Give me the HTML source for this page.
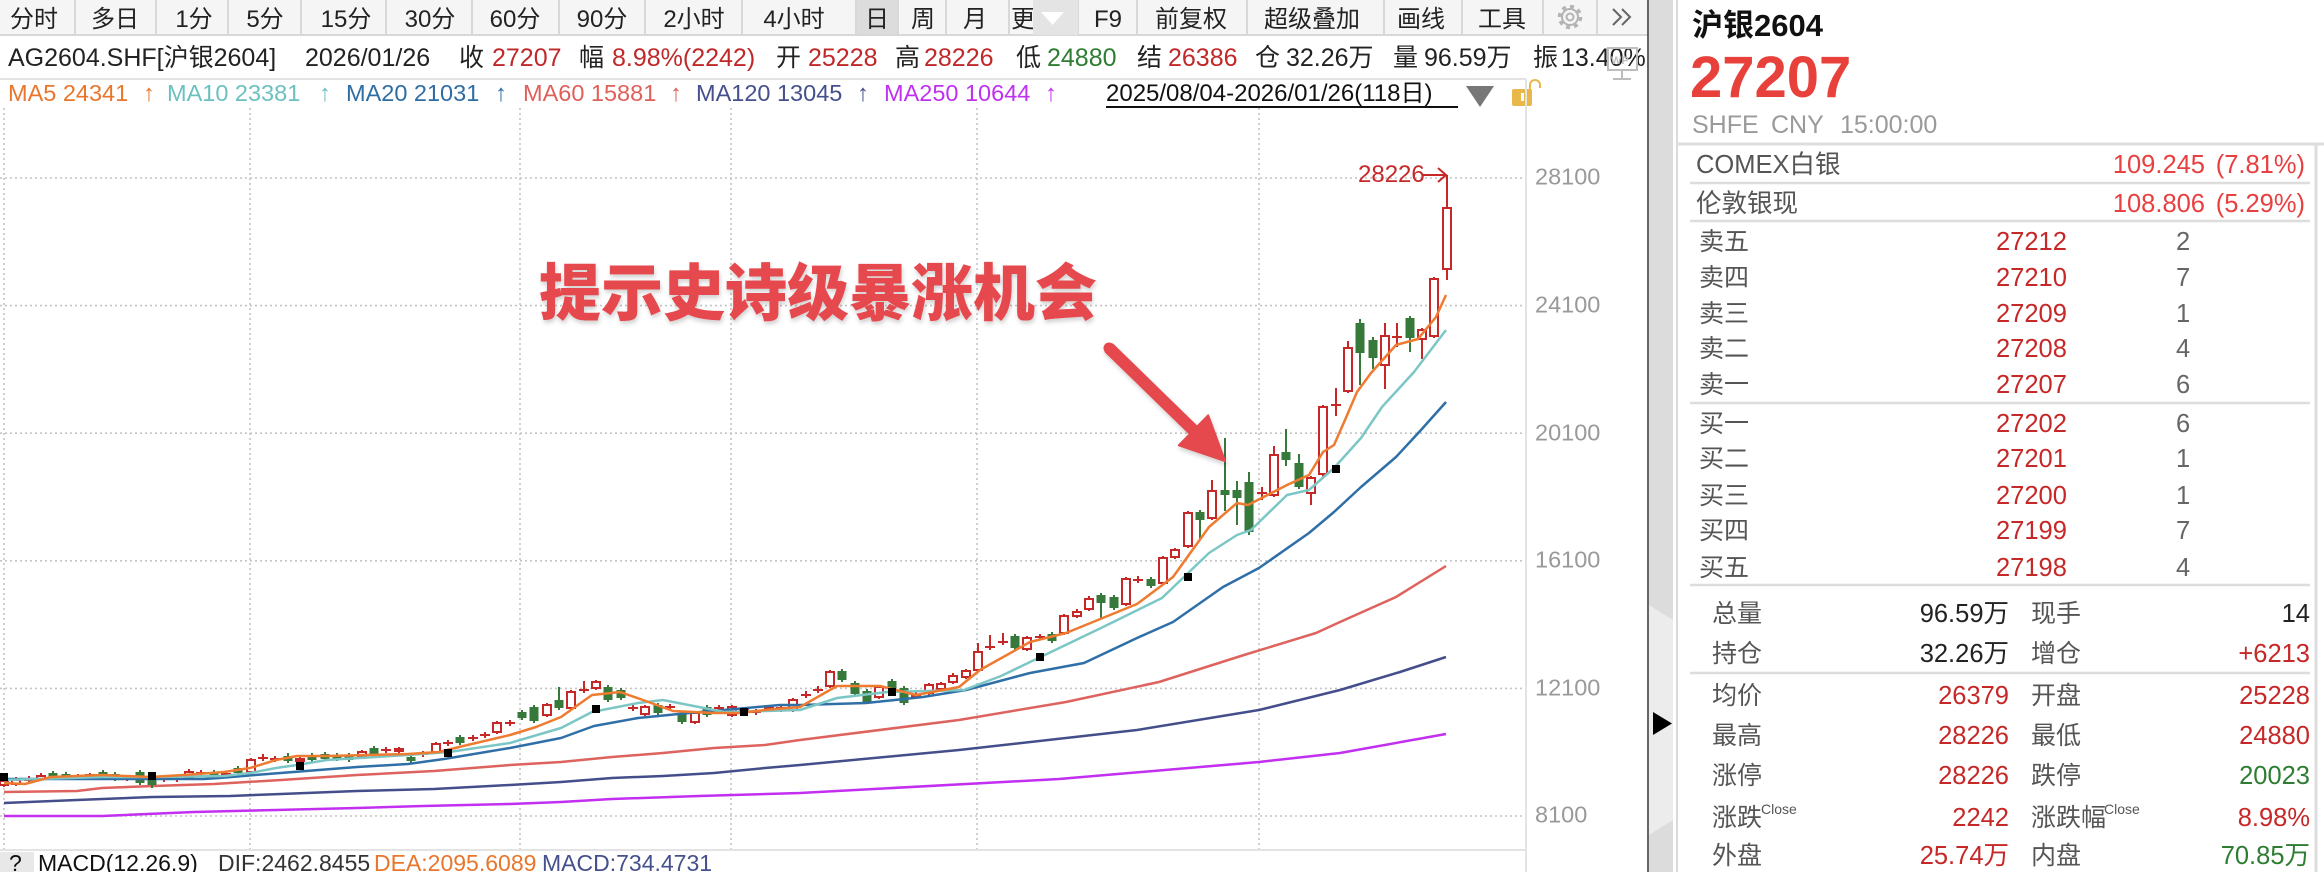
<!DOCTYPE html>
<html><head><meta charset="utf-8"><style>
html,body{margin:0;padding:0;background:#fff;}
svg{display:block;}
text{font-family:"Liberation Sans","Noto Sans CJK SC",sans-serif;}
</style></head><body>
<svg width="2324" height="872" viewBox="0 0 2324 872" xmlns="http://www.w3.org/2000/svg">
<rect width="2324" height="872" fill="#fff"/>
<!-- Tab bar -->
<rect x="0" y="0" width="1648" height="35" fill="#f5f5f5"/>
<rect x="856" y="0" width="42" height="35" fill="#dcdcdc"/>
<g stroke="#d8d8d8" stroke-width="2">
<path d="M75 0V35M156 0V35M228 0V35M301 0V35M386 0V35M472 0V35M559 0V35M645 0V35M742 0V35M856 0V35M898 0V35M946 0V35M1009 0V35M1078 0V35M1137 0V35M1247 0V35M1384 0V35M1462 0V35M1543 0V35M1597 0V35"/>
<path d="M0 35H1648"/>
</g>
<g font-size="24" fill="#222" text-anchor="middle">
<text x="34" y="27">分时</text><text x="115" y="27">多日</text><text x="194" y="27">1分</text><text x="265" y="27">5分</text><text x="346" y="27">15分</text><text x="430" y="27">30分</text><text x="515" y="27">60分</text><text x="602" y="27">90分</text><text x="694" y="27">2小时</text><text x="794" y="27">4小时</text><text x="877" y="27">日</text><text x="923" y="27">周</text><text x="975" y="27">月</text><text x="1023" y="27">更</text><text x="1108" y="27">F9</text><text x="1191" y="27">前复权</text><text x="1312" y="27">超级叠加</text><text x="1421" y="27">画线</text><text x="1502" y="27">工具</text>
</g>
<rect x="1033" y="0" width="45" height="35" fill="#e4e4e4"/>
<polygon points="1041,12 1064,12 1052.5,25" fill="#fff"/>
<g fill="none" stroke="#b4b4b4">
<circle cx="1570" cy="17" r="10.5" stroke-width="3.5" stroke-dasharray="4 4.2"/>
<circle cx="1570" cy="17" r="8" stroke-width="2"/>
<circle cx="1570" cy="17" r="3.5" stroke-width="2"/>
</g>
<g fill="none" stroke="#666" stroke-width="2"><path d="M1613 9L1621 17L1613 25M1622 9L1630 17L1622 25"/></g>

<!-- Info line -->
<g font-size="25" fill="#222">
<text x="8" y="66">AG2604.SHF[沪银2604]</text>
<text x="305" y="66">2026/01/26</text>
<text x="459" y="66">收</text><text x="492" y="66" fill="#c0282a">27207</text>
<text x="579" y="66">幅</text><text x="612" y="66" fill="#c0282a">8.98%(2242)</text>
<text x="776" y="66">开</text><text x="808" y="66" fill="#c0282a">25228</text>
<text x="895" y="66">高</text><text x="924" y="66" fill="#c0282a">28226</text>
<text x="1016" y="66">低</text><text x="1047" y="66" fill="#2e7d32">24880</text>
<text x="1137" y="66">结</text><text x="1168" y="66" fill="#c0282a">26386</text>
<text x="1255" y="66">仓</text><text x="1286" y="66">32.26万</text>
<text x="1393" y="66">量</text><text x="1424" y="66">96.59万</text>
<text x="1533" y="66">振</text><text x="1561" y="66">13.40%</text>
</g>
<g fill="none" stroke="#bdbdbd" stroke-width="2"><rect x="1608" y="48" width="29" height="22"/><path d="M1622 70V78M1613 79H1631"/></g>
<text x="1611" y="64" font-size="11" fill="#bdbdbd" font-weight="bold">WP</text>
<path d="M0 79H1526" stroke="#e3e3e3" stroke-width="2"/>

<!-- MA line -->
<g font-size="23.5">
<text x="8" y="101" fill="#e8762c">MA5 24341</text><text x="143" y="101" fill="#e8762c">↑</text>
<text x="167" y="101" fill="#6cc0c0">MA10 23381</text><text x="319" y="101" fill="#6cc0c0">↑</text>
<text x="346" y="101" fill="#2e6da4">MA20 21031</text><text x="495" y="101" fill="#2e6da4">↑</text>
<text x="523" y="101" fill="#e0605a">MA60 15881</text><text x="670" y="101" fill="#e0605a">↑</text>
<text x="696" y="101" fill="#45508c">MA120 13045</text><text x="857" y="101" fill="#45508c">↑</text>
<text x="884" y="101" fill="#c030f0">MA250 10644</text><text x="1045" y="101" fill="#c030f0">↑</text>
</g>
<text x="1106" y="101" font-size="24" fill="#111">2025/08/04-2026/01/26(118日)</text>
<path d="M1106 107H1458" stroke="#111" stroke-width="2"/>
<polygon points="1466,86 1494,86 1480,107" fill="#777"/>
<rect x="1512" y="89" width="20" height="17" rx="2" fill="#e8b84a"/>
<rect x="1521" y="93" width="3" height="8" fill="#fff"/>
<path d="M1530 89V85A5 5 0 0 1 1540 85V88" fill="none" stroke="#e8b84a" stroke-width="2"/>

<!-- Grid -->
<g stroke="#c4c4c4" stroke-width="1.6" stroke-dasharray="2 3" fill="none">
<path d="M0 178H1526M0 305.6H1526M0 433.2H1526M0 560.8H1526M0 688.4H1526M0 816H1526"/>
<path d="M4 108V850M250 108V850M520 108V850M731 108V850M977 108V850M1259 108V850"/>
</g>
<path d="M1526 79V872M0 850H1526" stroke="#e3e3e3" stroke-width="2" fill="none"/>
<g font-size="23.5" fill="#999">
<text x="1535" y="184.5">28100</text><text x="1535" y="312.5">24100</text><text x="1535" y="440.5">20100</text><text x="1535" y="567.5">16100</text><text x="1535" y="695.5">12100</text><text x="1535" y="822.5">8100</text>
</g>

<!-- MA long -->
<g fill="none" stroke-width="2.5" stroke-linejoin="round">
<polyline stroke="#c22ff0" points="4,816 102,816 194,812 276,810 357,808 423,806 510,804 561,802 612,799 699,796 800,793 1059,779 1259,762 1340,753 1446,734"/>
<polyline stroke="#434e8b" points="4,803 77,800 153,797 230,796 281,794 357,791 434,789 510,785 561,782 612,778 663,776 714,773 765,768 800,765 959,750 1137,730 1259,710 1340,690 1400,672 1446,657"/>
<polyline stroke="#de625d" points="4,792 77,791 102,788 153,786 214,784 281,780 357,775 434,771 510,765 561,762 612,757 663,753 714,748 765,745 800,740 959,720 1066,702 1159,682 1244,655 1316,633 1340,622 1396,597 1446,566"/>
</g>

<!-- Candles: red wicks -->
<path fill="none" stroke="#c62828" stroke-width="2" d="M4 778V787M16 777V786M29 776V784M41 773V781M78 774V780M90 773V780M127 775V781M164 776V782M177 776V782M189 769V779M201 770V776M226 771V777M251 758V774M263 754V761M275 756V762M300 757V763M362 750V759M386 747V753M399 747V753M423 751V757M436 742V754M448 740V746M473 735V741M485 732V738M497 721V734M510 720V726M547 703V717M571 690V710M584 681V693M596 680V690M633 705V711M645 705V716M670 704V710M695 711V724M719 705V711M732 705V717M744 707V714M756 709V715M769 705V711M781 706V712M793 698V712M806 691V698M818 686V693M830 670V688M879 685V699M916 692V699M929 683V695M941 682V691M953 673V684M966 669V679M978 643V672M990 635V650M1003 633V645M1027 636V651M1040 634V640M1064 614V635M1077 609V618M1089 596V611M1126 577V606M1138 576V583M1163 556V585M1175 548V559M1188 511V548M1212 480V520M1262 487V500M1274 446V497M1311 476V505M1323 405V477M1336 388V416M1348 341V393M1385 323V389M1397 323V347M1422 328V359M1434 277V338M1447 175V280
M24 780H34M73 777H83M122 778H132M159 779H169M172 779H182M196 773H206M221 774H231M258 758H268M270 759H280M381 750H391M418 754H428M443 743H453M468 738H478M480 735H490M505 723H515M579 690H589M628 708H638M665 707H675M714 708H724M751 712H761M764 708H774M801 695H811M813 690H823M911 696H921M985 647H995M998 642H1008M1035 637H1045M1133 580H1143M1257 493H1267M1331 405H1341M1392 337H1402"/>
<!-- red hollow bodies -->
<g fill="#fff" stroke="#c62828" stroke-width="2">
<rect x="0" y="781" width="8" height="4"/><rect x="12" y="780" width="8" height="4"/><rect x="37" y="776" width="8" height="3"/><rect x="86" y="775" width="8" height="3"/><rect x="185" y="772" width="8" height="5"/><rect x="247" y="760" width="8" height="12"/><rect x="296" y="759" width="8" height="2"/><rect x="358" y="752" width="8" height="5"/><rect x="395" y="749" width="8" height="2"/><rect x="432" y="744" width="8" height="8"/><rect x="493" y="723" width="8" height="9"/><rect x="543" y="705" width="8" height="10"/><rect x="567" y="692" width="8" height="16"/><rect x="592" y="682" width="8" height="6"/><rect x="641" y="707" width="8" height="7"/><rect x="691" y="713" width="8" height="9"/><rect x="728" y="707" width="8" height="8"/><rect x="740" y="709" width="8" height="3"/><rect x="777" y="708" width="8" height="2"/><rect x="789" y="700" width="8" height="10"/><rect x="826" y="672" width="8" height="14"/><rect x="875" y="687" width="8" height="10"/><rect x="925" y="685" width="8" height="8"/><rect x="937" y="684" width="8" height="5"/><rect x="949" y="676" width="8" height="6"/><rect x="962" y="671" width="8" height="6"/><rect x="974" y="652" width="8" height="18"/><rect x="1023" y="638" width="8" height="11"/><rect x="1060" y="616" width="8" height="17"/><rect x="1073" y="612" width="8" height="4"/><rect x="1085" y="599" width="8" height="10"/><rect x="1122" y="579" width="8" height="25"/><rect x="1159" y="558" width="8" height="25"/><rect x="1171" y="550" width="8" height="7"/><rect x="1184" y="513" width="8" height="33"/><rect x="1208" y="491" width="8" height="27"/><rect x="1270" y="455" width="8" height="40"/><rect x="1307" y="478" width="8" height="15"/><rect x="1319" y="407" width="8" height="67"/><rect x="1344" y="348" width="8" height="43"/><rect x="1381" y="336" width="8" height="29"/><rect x="1418" y="330" width="8" height="9"/><rect x="1430" y="279" width="8" height="57"/><rect x="1443" y="208" width="8" height="61"/>
</g>
<!-- green -->
<path fill="none" stroke="#37793a" stroke-width="2" d="M53 771V779M66 772V780M103 770V780M115 772V781M140 770V785M152 775V788M214 770V778M238 766V775M288 753V763M312 753V762M325 752V761M337 753V761M349 753V762M374 746V756M411 755V763M460 735V745M522 710V720M534 705V723M559 687V710M608 685V702M621 688V700M658 703V715M682 711V724M707 705V717M842 669V682M855 681V696M867 689V704M892 679V690M904 686V705M1015 634V650M1052 632V643M1101 593V619M1114 595V610M1151 577V588M1200 510V540M1225 438V511M1237 481V525M1249 472V535M1286 429V466M1299 454V489M1360 319V385M1373 337V369M1410 316V352"/>
<g fill="#37793a">
<rect x="48.5" y="773" width="9" height="4"/><rect x="61.5" y="774" width="9" height="4"/><rect x="98.5" y="772" width="9" height="6"/><rect x="110.5" y="774" width="9" height="5"/><rect x="135.5" y="772" width="9" height="11"/><rect x="147.5" y="777" width="9" height="8"/><rect x="209.5" y="772" width="9" height="4"/><rect x="233.5" y="768" width="9" height="5"/><rect x="283.5" y="756" width="9" height="5"/><rect x="307.5" y="755" width="9" height="5"/><rect x="320.5" y="754" width="9" height="5"/><rect x="332.5" y="755" width="9" height="4"/><rect x="344.5" y="755" width="9" height="5"/><rect x="369.5" y="748" width="9" height="6"/><rect x="406.5" y="757" width="9" height="4"/><rect x="455.5" y="737" width="9" height="6"/><rect x="517.5" y="712" width="9" height="6"/><rect x="529.5" y="707" width="9" height="14"/><rect x="554.5" y="700" width="9" height="8"/><rect x="603.5" y="687" width="9" height="13"/><rect x="616.5" y="690" width="9" height="8"/><rect x="653.5" y="705" width="9" height="8"/><rect x="677.5" y="713" width="9" height="9"/><rect x="702.5" y="707" width="9" height="8"/><rect x="837.5" y="671" width="9" height="9"/><rect x="850.5" y="683" width="9" height="11"/><rect x="862.5" y="691" width="9" height="11"/><rect x="887.5" y="681" width="9" height="7"/><rect x="899.5" y="688" width="9" height="15"/><rect x="1010.5" y="636" width="9" height="12"/><rect x="1047.5" y="634" width="9" height="7"/><rect x="1096.5" y="595" width="9" height="8"/><rect x="1109.5" y="597" width="9" height="11"/><rect x="1146.5" y="579" width="9" height="7"/><rect x="1195.5" y="512" width="9" height="8"/><rect x="1220.5" y="490" width="9" height="5"/><rect x="1232.5" y="490" width="9" height="8"/><rect x="1244.5" y="482" width="9" height="50"/><rect x="1281.5" y="452" width="9" height="8"/><rect x="1294.5" y="463" width="9" height="24"/><rect x="1355.5" y="323" width="9" height="30"/><rect x="1368.5" y="340" width="9" height="18"/><rect x="1405.5" y="318" width="9" height="20"/>
</g>

<!-- MA short -->
<g fill="none" stroke-width="2.5" stroke-linejoin="round">
<polyline stroke="#2f6fa7" points="4,779 204,779 219,778 255,775 306,771 357,767 408,764 444,759 510,748 561,738 594,726 638,718 689,713 724,710 780,705 800,705 866,703 923,697 966,690 1030,673 1084,663 1137,638 1173,622 1223,587 1259,568 1309,533 1334,512 1361,487 1396,457 1421,430 1446,402"/>
<polyline stroke="#7cc7c6" points="4,780 102,777 153,777 224,776 250,773 276,768 297,765 327,760 408,755 449,752 510,743 561,728 592,712 638,703 663,700 704,708 724,712 765,711 800,710 837,698 887,692 964,690 1001,676 1051,652 1101,628 1162,598 1209,553 1237,535 1251,530 1287,495 1309,490 1334,468 1361,438 1382,407 1414,372 1446,330"/>
<polyline stroke="#ee7b30" points="4,783 25,784 51,777 102,775 150,777 184,775 224,772 250,768 276,760 297,756 327,756 408,754 439,752 459,747 510,735 536,727 561,717 592,695 620,692 643,700 673,711 714,713 740,713 765,710 800,707 837,686 880,686 916,695 959,687 980,670 1030,642 1066,633 1137,604 1173,577 1209,527 1237,503 1248,505 1287,485 1309,475 1323,452 1334,445 1345,420 1357,392 1371,373 1396,345 1418,339 1436,317 1446,295"/>
</g>
<g fill="#000">
<rect x="0" y="773" width="8" height="8"/><rect x="148" y="772" width="8" height="8"/><rect x="296" y="762" width="8" height="8"/><rect x="444" y="749" width="8" height="8"/><rect x="592" y="705" width="8" height="8"/><rect x="740" y="708" width="8" height="8"/><rect x="888" y="688" width="8" height="8"/><rect x="1036" y="653" width="8" height="8"/><rect x="1184" y="573" width="8" height="8"/><rect x="1332" y="465" width="8" height="8"/>
</g>

<!-- high marker -->
<text x="1358" y="182" font-size="24" fill="#c62828">28226</text>
<path d="M1423 175H1446M1438 168L1446 175L1438 182" fill="none" stroke="#c62828" stroke-width="2"/>

<!-- Annotation -->
<defs><filter id="sh" x="-10%" y="-10%" width="130%" height="130%"><feDropShadow dx="1" dy="3" stdDeviation="2" flood-color="#000" flood-opacity="0.18"/></filter></defs>
<text x="539" y="315" font-size="62" font-weight="900" fill="#e5484d" filter="url(#sh)" style="font-family:'Noto Sans CJK SC','WenQuanYi Zen Hei',sans-serif">提示史诗级暴涨机会</text>
<g filter="url(#sh)" fill="#e5484d" stroke="#e5484d" stroke-width="2" stroke-linejoin="round">
<polygon points="1112.5,344.4 1197,426.7 1208.2,415.3 1225,461 1178.8,445.3 1190,433.9 1105.5,351.6"/>
<circle cx="1109" cy="348" r="4.5"/>
</g>

<!-- MACD row -->
<rect x="0" y="852" width="34" height="20" fill="#e8e8e8"/>
<g font-size="23">
<text x="9" y="871" fill="#111">?</text>
<text x="38" y="871" fill="#111">MACD(12.26.9)</text>
<text x="218" y="871" fill="#333">DIF:2462.8455</text>
<text x="374" y="871" fill="#e8762c">DEA:2095.6089</text>
<text x="542" y="871" fill="#45508c">MACD:734.4731</text>
</g>

<!-- Separator strip -->
<rect x="1649" y="0" width="24" height="872" fill="#dcdcdc"/>
<polygon points="1649,605 1673,620 1673,820 1649,835" fill="#ececec"/>
<rect x="1673" y="0" width="4" height="872" fill="#fff"/>
<path d="M1648 0V872" stroke="#333" stroke-width="1.5"/>
<path d="M1677 0V872" stroke="#dadada" stroke-width="2"/>
<polygon points="1653,712 1672,723.5 1653,735" fill="#000"/>

<!-- Right panel -->
<rect x="1678" y="0" width="646" height="872" fill="#fff"/>
<path d="M1677 144H2324M2316 144V872" stroke="#dddddd" stroke-width="3" fill="none"/>
<text x="1692" y="36" font-size="31" font-weight="bold" fill="#111">沪银2604</text>
<text x="1690" y="97" font-size="58" font-weight="bold" fill="#e8413c">27207</text>
<g font-size="25" fill="#9a9a9a"><text x="1692" y="133">SHFE</text><text x="1771" y="133">CNY</text><text x="1840" y="133">15:00:00</text></g>
<g stroke="#dddddd" stroke-width="2.5" fill="none"><path d="M1690 183H2310M1690 221H2310M1690 403H2310M1690 585H2310M1690 673H2310"/></g>
<g font-size="25.5" fill="#555">
<text x="1696" y="173">COMEX白银</text><text x="1696" y="212">伦敦银现</text>
</g>
<g font-size="25.5" fill="#e84040" text-anchor="end">
<text x="2205" y="173">109.245</text><text x="2305" y="173">(7.81%)</text>
<text x="2205" y="212">108.806</text><text x="2305" y="212">(5.29%)</text>
</g>
<g font-size="25" fill="#555">
<text x="1699" y="250">卖五</text><text x="1699" y="286">卖四</text><text x="1699" y="322">卖三</text><text x="1699" y="357">卖二</text><text x="1699" y="393">卖一</text>
<text x="1699" y="432">买一</text><text x="1699" y="467">买二</text><text x="1699" y="504">买三</text><text x="1699" y="539">买四</text><text x="1699" y="576">买五</text>
</g>
<g font-size="25.5" fill="#c62828">
<text x="1996" y="250">27212</text><text x="1996" y="286">27210</text><text x="1996" y="322">27209</text><text x="1996" y="357">27208</text><text x="1996" y="393">27207</text>
<text x="1996" y="432">27202</text><text x="1996" y="467">27201</text><text x="1996" y="504">27200</text><text x="1996" y="539">27199</text><text x="1996" y="576">27198</text>
</g>
<g font-size="25.5" fill="#666">
<text x="2176" y="250">2</text><text x="2176" y="286">7</text><text x="2176" y="322">1</text><text x="2176" y="357">4</text><text x="2176" y="393">6</text>
<text x="2176" y="432">6</text><text x="2176" y="467">1</text><text x="2176" y="504">1</text><text x="2176" y="539">7</text><text x="2176" y="576">4</text>
</g>
<g font-size="25" fill="#555">
<text x="1712" y="622">总量</text><text x="1712" y="662">持仓</text><text x="1712" y="704">均价</text><text x="1712" y="744">最高</text><text x="1712" y="784">涨停</text><text x="1712" y="826">涨跌</text><text x="1712" y="864">外盘</text>
<text x="2031" y="622">现手</text><text x="2031" y="662">增仓</text><text x="2031" y="704">开盘</text><text x="2031" y="744">最低</text><text x="2031" y="784">跌停</text><text x="2031" y="826">涨跌幅</text><text x="2031" y="864">内盘</text>
<text x="1761" y="814" font-size="14">Close</text><text x="2104" y="814" font-size="14">Close</text>
</g>
<g font-size="25.5" text-anchor="end">
<text x="2009" y="622" fill="#222">96.59万</text><text x="2310" y="622" fill="#222">14</text>
<text x="2009" y="662" fill="#222">32.26万</text><text x="2310" y="662" fill="#c62828">+6213</text>
<text x="2009" y="704" fill="#c62828">26379</text><text x="2310" y="704" fill="#c62828">25228</text>
<text x="2009" y="744" fill="#c62828">28226</text><text x="2310" y="744" fill="#c62828">24880</text>
<text x="2009" y="784" fill="#c62828">28226</text><text x="2310" y="784" fill="#2e7d32">20023</text>
<text x="2009" y="826" fill="#c62828">2242</text><text x="2310" y="826" fill="#c62828">8.98%</text>
<text x="2009" y="864" fill="#c62828">25.74万</text><text x="2310" y="864" fill="#2e7d32">70.85万</text>
</g>
</svg>
</body></html>
